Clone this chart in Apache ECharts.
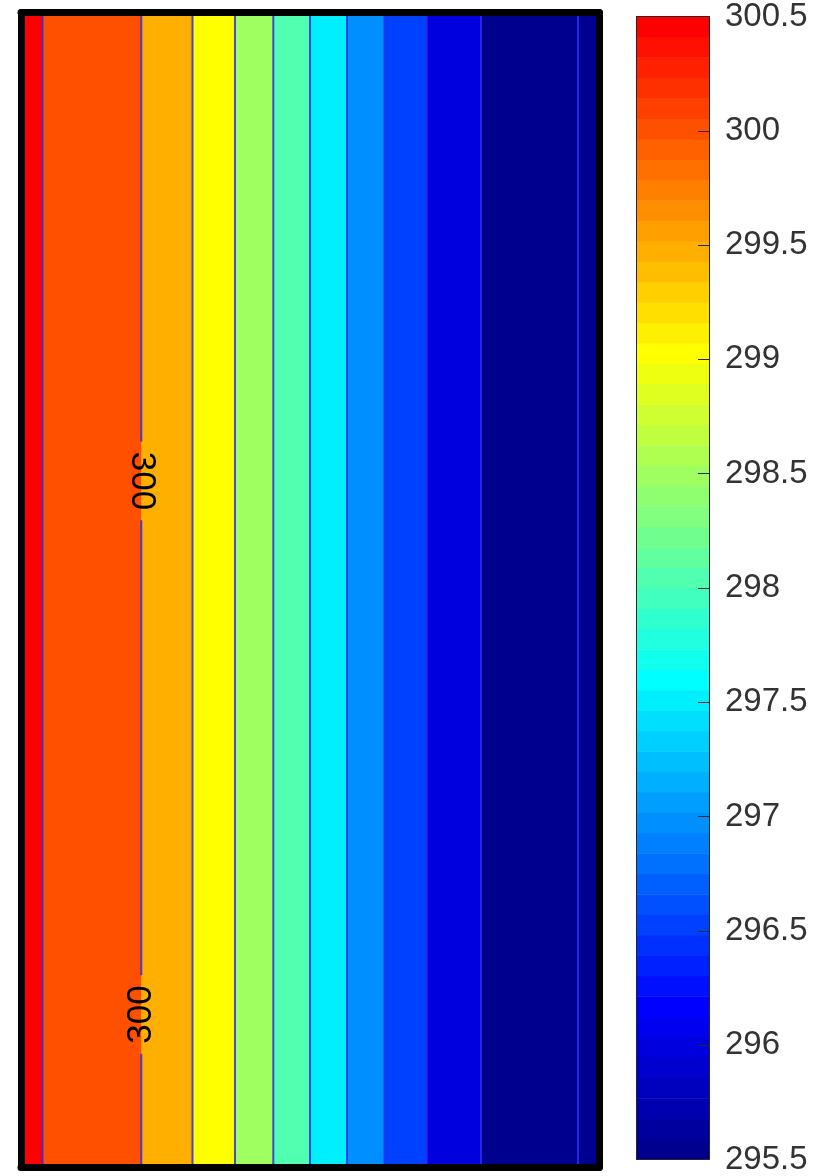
<!DOCTYPE html>
<html><head><meta charset="utf-8">
<script src="https://cdn.jsdelivr.net/npm/echarts@6/dist/echarts.min.js"></script>
<style>html,body{margin:0;padding:0;background:#fff}#c{width:813px;height:1176px}</style>
</head><body><div id="c"></div>
<script>
// ---- data ----
const contourX = [3.72, 20.81, 29.67, 37.02, 43.65, 50.0, 56.40, 62.89, 70.19, 79.58, 96.37];
const contourLevels = [300.5, 300, 299.5, 299, 298.5, 298, 297.5, 297, 296.5, 296, 295.5];
const labelLevel = 300;
const labelY = [59.44, 13.25];
const labelText = ['300', '300'];
const labelRotate = [-90, 90];
const cMin = 295.5, cMax = 300.5, cStep = 0.5, nColors = 56;
const xMin = 0, xMax = 100, yMin = 0, yMax = 100;
const gapHalf = 3.4;

// ---- jet(64) colormap ----
function jet64(k) {
  const u = [];
  for (let i = 1; i <= 16; i++) u.push(i / 16);
  for (let i = 0; i < 15; i++) u.push(1);
  for (let i = 16; i >= 1; i--) u.push(i / 16);
  const val = idx => (idx >= 1 && idx <= 47) ? u[idx - 1] : 0;
  const r = val(k - 24), g = val(k - 8), b = val(k + 8);
  return 'rgb(' + Math.round(r * 255) + ',' + Math.round(g * 255) + ',' + Math.round(b * 255) + ')';
}
function colorFor(v) {
  let k = Math.floor((v - cMin) / (cMax - cMin) * nColors) + 1;
  k = Math.max(1, Math.min(nColors, k));
  return jet64(k);
}

// bands
const edges = [xMin].concat(contourX, [xMax]);
const bandData = [];
for (let i = 0; i < edges.length - 1; i++) {
  let v;
  if (i === 0) v = contourLevels[0];
  else if (i <= contourLevels.length - 1) v = contourLevels[i];
  else v = cMin - cStep;
  bandData.push([edges[i], edges[i + 1], v]);
}
const lineData = contourX.map((x, i) => [x, contourLevels[i]]);
const labelX = contourX[contourLevels.indexOf(labelLevel)];
const labelData = labelY.map((y, i) => [labelX, y, labelText[i], labelRotate[i]]);

const cbData = [];
for (let k = 0; k < nColors; k++) {
  const v0 = cMin + (cMax - cMin) * k / nColors;
  const v1 = cMin + (cMax - cMin) * (k + 1) / nColors;
  cbData.push([v0, v1, k + 1]);
}

const FONT = '"Liberation Sans", Arial, Helvetica, sans-serif';
const chart = echarts.init(document.getElementById('c'), null, {renderer: 'canvas'});

function frameAxis(grid, pos, isX, color, width, extra) {
  return Object.assign({
    gridIndex: grid, type: 'value', position: pos, z: 10,
    axisLine: {show: true, onZero: false, lineStyle: {color: color, width: width, cap: 'round'}},
    axisTick: {show: false}, axisLabel: {show: false}, splitLine: {show: false}
  }, extra);
}

chart.setOption({
  animation: false,
  backgroundColor: '#fff',
  grid: [
    {left: 21, top: 12.5, width: 578, height: 1155},
    {left: 636.5, top: 13.5, width: 72.5, height: 1152}
  ],
  xAxis: [
    frameAxis(0, 'bottom', true, '#000', 7, {min: xMin, max: xMax}),
    frameAxis(0, 'top', true, '#000', 7, {min: xMin, max: xMax}),
    frameAxis(1, 'bottom', true, '#262626', 1, {min: 0, max: 1}),
    frameAxis(1, 'top', true, '#262626', 1, {min: 0, max: 1})
  ],
  yAxis: [
    frameAxis(0, 'left', false, '#000', 7, {min: yMin, max: yMax}),
    frameAxis(0, 'right', false, '#000', 7, {min: yMin, max: yMax}),
    frameAxis(1, 'left', false, '#262626', 1, {min: cMin, max: cMax}),
    frameAxis(1, 'right', false, '#262626', 1, {
      min: cMin, max: cMax, interval: cStep,
      axisTick: {show: true, inside: true, length: 11, lineStyle: {color: '#262626', width: 1}},
      axisLabel: {show: true, margin: 16, color: '#333', fontSize: 33, fontFamily: FONT,
        showMinLabel: true, showMaxLabel: true, hideOverlap: false}
    })
  ],
  series: [
    {
      type: 'custom', xAxisIndex: 0, yAxisIndex: 0, data: bandData, clip: true,
      renderItem: function (params, api) {
        const p0 = api.coord([api.value(0), yMax]);
        const p1 = api.coord([api.value(1), yMin]);
        return {type: 'rect', shape: {x: p0[0], y: p0[1], width: p1[0] - p0[0] + 0.5, height: p1[1] - p0[1]},
          style: {fill: colorFor(api.value(2))}};
      }
    },
    {
      type: 'custom', xAxisIndex: 0, yAxisIndex: 0, data: lineData, clip: true, z: 3,
      renderItem: function (params, api) {
        const x = api.value(0), lev = api.value(1);
        let segs = [[yMin, yMax]];
        if (lev === labelLevel) {
          const ys = labelY.slice().sort((a, b) => a - b);
          segs = []; let cur = yMin;
          ys.forEach(y => { segs.push([cur, y - gapHalf]); cur = y + gapHalf; });
          segs.push([cur, yMax]);
        }
        return {type: 'group', children: segs.map(s => {
          const a = api.coord([x, s[0]]), b = api.coord([x, s[1]]);
          return {type: 'line', shape: {x1: a[0], y1: a[1], x2: b[0], y2: b[1]},
            style: {stroke: 'rgba(45,45,235,0.85)', lineWidth: 2}};
        })};
      }
    },
    {
      type: 'custom', xAxisIndex: 0, yAxisIndex: 0, data: labelData, z: 4,
      renderItem: function (params, api) {
        const p = api.coord([api.value(0), api.value(1)]);
        const d = labelData[params.dataIndex];
        return {type: 'text', x: p[0], y: p[1], rotation: d[3] * Math.PI / 180,
          style: {text: d[2], fill: '#000', font: '35px ' + FONT, align: 'center', verticalAlign: 'middle'}};
      }
    },
    {
      type: 'custom', xAxisIndex: 2, yAxisIndex: 2, data: cbData, clip: true,
      renderItem: function (params, api) {
        const p0 = api.coord([0, api.value(1)]);
        const p1 = api.coord([1, api.value(0)]);
        return {type: 'rect', shape: {x: p0[0], y: p0[1], width: p1[0] - p0[0], height: p1[1] - p0[1] + 0.5},
          style: {fill: jet64(api.value(2))}};
      }
    }
  ]
});
</script></body></html>
